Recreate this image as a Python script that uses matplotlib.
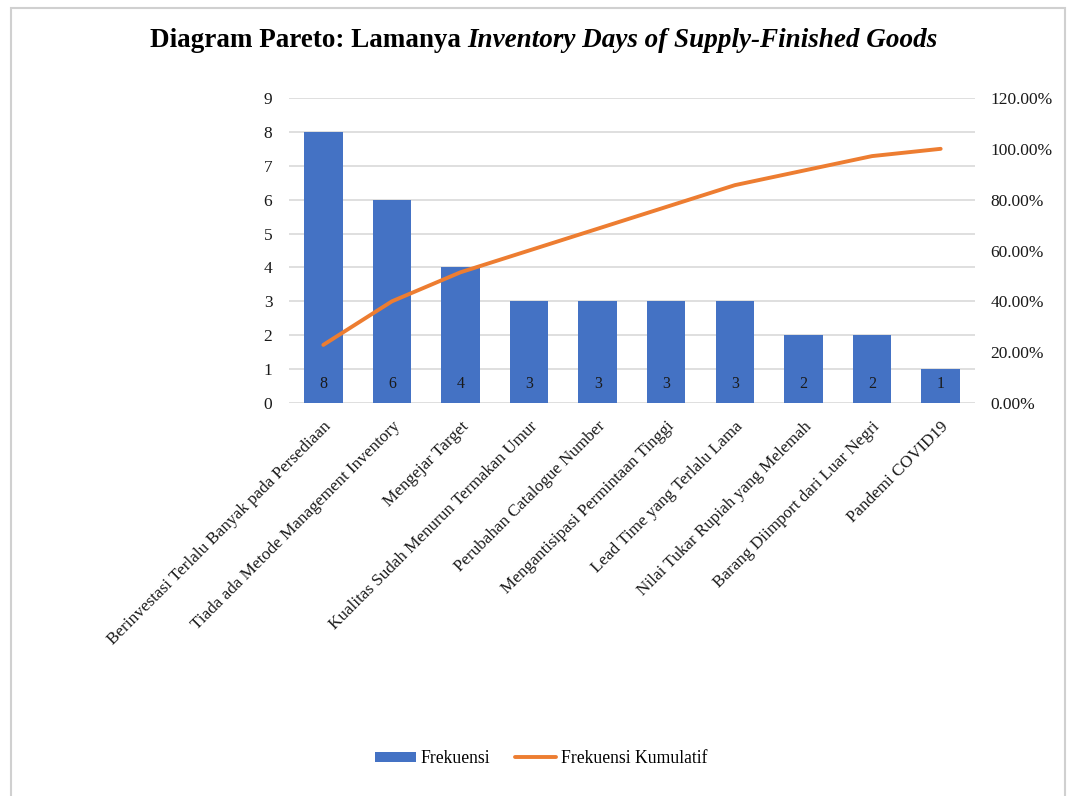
import matplotlib.pyplot as plt
import numpy as np
from matplotlib.patches import Rectangle
from matplotlib.ticker import FuncFormatter

categories = [
    "Berinvestasi Terlalu Banyak pada Persediaan",
    "Tiada ada Metode Management Inventory",
    "Mengejar Target",
    "Kualitas Sudah Menurun Termakan Umur",
    "Perubahan Catalogue Number",
    "Mengantisipasi Permintaan Tinggi",
    "Lead Time yang Terlalu Lama",
    "Nilai Tukar Rupiah yang Melemah",
    "Barang Diimport dari Luar Negri",
    "Pandemi COVID19",
]
frekuensi = [8, 6, 4, 3, 3, 3, 3, 2, 2, 1]
kumulatif = [22.86, 40.00, 51.43, 60.00, 68.57, 77.14, 85.71, 91.43, 97.14, 100.00]

blue = "#4472C4"
orange = "#ED7D31"
grid = "#D9D9D9"

plt.rcParams['font.family'] = ['Liberation Serif', 'DejaVu Serif']

fig = plt.figure(figsize=(10.76, 7.96), dpi=100)
ax = fig.add_axes([0.2686, 0.4937, 0.6375, 0.3832])
ax2 = ax.twinx()

x = np.arange(len(categories))
ax.bar(x, frekuensi, width=0.56, color=blue, zorder=2, label="Frekuensi")
for xi, v in zip(x, frekuensi):
    ax.text(xi, 0.55, str(v), ha='center', va='center', fontsize=11.5, color='#1a1a1a', zorder=3)

ax2.plot(x, np.array(kumulatif) / 100, color=orange, lw=2.8, solid_capstyle='round',
         label="Frekuensi Kumulatif", zorder=4)

ax.set_xlim(-0.5, len(categories) - 0.5)
ax.set_ylim(0, 9)
ax.set_yticks(range(10))
ax2.set_ylim(0, 1.2)
ax2.set_yticks(np.arange(0, 1.21, 0.2))
ax2.yaxis.set_major_formatter(FuncFormatter(lambda v, p: f"{v * 100:.2f}%"))

ax.yaxis.grid(True, color=grid, lw=1.2, zorder=0)
ax.set_axisbelow(True)
for a in (ax, ax2):
    for s in a.spines.values():
        s.set_visible(False)
    a.tick_params(length=0, labelsize=12.5, colors='#1a1a1a')
ax.tick_params(axis='y', pad=12)
ax2.tick_params(axis='y', pad=11)

ax.set_xticks(x)
ax.set_xticklabels(categories, rotation=45, ha='right', rotation_mode='anchor', fontsize=12.3)
ax.tick_params(axis='x', pad=11)

# title built from two runs: regular bold and bold italic
t1 = fig.text(0, 0.949, "Diagram Pareto: Lamanya ", fontsize=19.5, fontweight='bold', va='center')
t2 = fig.text(0, 0.949, "Inventory Days of Supply-Finished Goods", fontsize=19.5,
              fontweight='bold', style='italic', va='center')
fig.canvas.draw()
r = fig.canvas.get_renderer()
w1 = t1.get_window_extent(r).width
w2 = t2.get_window_extent(r).width
W = fig.bbox.width
start = (544 - (w1 + w2) / 2) / W
t1.set_x(start)
t2.set_x(start + w1 / W)

h1, l1 = ax.get_legend_handles_labels()
h2, l2 = ax2.get_legend_handles_labels()
fig.legend(h1 + h2, l1 + l2, loc='center', bbox_to_anchor=(0.503, 0.047), ncol=2,
           frameon=False, fontsize=12.7, handlelength=2.3, handleheight=0.55,
           columnspacing=1.4, handletextpad=0.3)

fig.patches.append(Rectangle((11 / 1076, -0.01), 1054 / 1076, 1 - 8 / 796 + 0.01,
                             transform=fig.transFigure, fill=False, edgecolor='#D0D0D0', lw=1.5))

fig.savefig("out.png", dpi=100)
